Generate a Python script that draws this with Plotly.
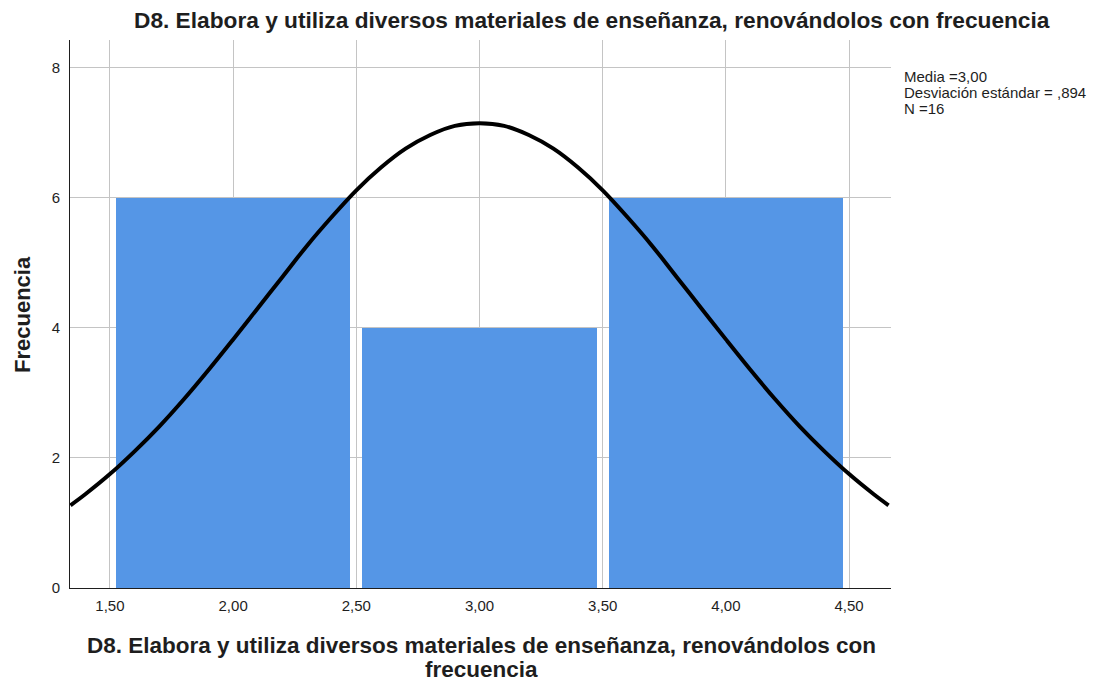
import plotly.graph_objects as go

# histogram bins (centres) and counts
bin_centres = [2.0, 3.0, 4.0]
counts = [6, 4, 6]

# normal curve (mean 3,00, sd ,894, N 16)
curve_x = [1.34, 1.4, 1.5, 1.6, 1.7, 1.8, 1.9, 2.0, 2.1, 2.2, 2.3, 2.4, 2.5, 2.6, 2.7, 2.8, 2.9,
           3.0, 3.1, 3.2, 3.3, 3.4, 3.5, 3.6, 3.7, 3.8, 3.9, 4.0, 4.1, 4.2, 4.3, 4.4, 4.5, 4.6, 4.66]
curve_y = [1.27, 1.44, 1.75, 2.10, 2.48, 2.90, 3.35, 3.82, 4.30, 4.78, 5.26, 5.70, 6.11, 6.46, 6.75, 6.96, 7.10,
           7.14, 7.10, 6.96, 6.75, 6.46, 6.11, 5.70, 5.26, 4.78, 4.30, 3.82, 3.35, 2.90, 2.48, 2.10, 1.75, 1.44, 1.27]

x_ticks = [1.5, 2.0, 2.5, 3.0, 3.5, 4.0, 4.5]
x_tick_labels = ["1,50", "2,00", "2,50", "3,00", "3,50", "4,00", "4,50"]
y_ticks = [0, 2, 4, 6, 8]

TITLE = "D8. Elabora y utiliza diversos materiales de enseñanza, renovándolos con frecuencia"
X_TITLE = ["D8. Elabora y utiliza diversos materiales de enseñanza, renovándolos con", "frecuencia"]
STATS = ["Media =3,00", "Desviación estándar = ,894", "N =16"]
FONT = "Liberation Sans, Arial, sans-serif"
INK = "#1e1e1e"

fig = go.Figure()
fig.add_trace(go.Bar(x=bin_centres, y=counts, width=0.95,
                     marker=dict(color="#5596e6", line=dict(width=0)),
                     showlegend=False))
fig.add_trace(go.Scatter(x=curve_x, y=curve_y, mode="lines",
                         line=dict(color="black", width=4, shape="spline"),
                         showlegend=False))

axis_common = dict(showgrid=True, gridcolor="#c4c4c4", gridwidth=1, zeroline=False,
                   showline=True, linecolor=INK, linewidth=1, ticks="",
                   tickfont=dict(size=15, color=INK), automargin=False)

fig.update_layout(
    width=1094, height=684,
    paper_bgcolor="white", plot_bgcolor="white",
    font=dict(family=FONT, color=INK, size=15),
    margin=dict(l=70, r=203, t=40, b=96),
    xaxis=dict(range=[1.338, 4.67], tickmode="array", tickvals=x_ticks, ticktext=x_tick_labels,
               ticklabelstandoff=4, **axis_common),
    yaxis=dict(range=[0, 8.42], tickmode="array", tickvals=y_ticks,
               ticklabelstandoff=6, **axis_common),
    bargap=0,
)

# chart title
fig.add_annotation(text="<b>" + TITLE + "</b>", xref="paper", yref="paper",
                   x=0.6358, y=1.0365, xanchor="center", yanchor="middle",
                   showarrow=False, font=dict(size=22.7, color=INK))

# x axis title, two lines set tight like the original
for txt, yy in zip(X_TITLE, [-0.1058, -0.1496]):
    fig.add_annotation(text="<b>" + txt + "</b>", xref="paper", yref="paper",
                       x=0.5018, y=yy, xanchor="center", yanchor="middle",
                       showarrow=False, font=dict(size=22.5, color=INK))

# y axis title
fig.add_annotation(text="<b>Frecuencia</b>", xref="paper", yref="paper",
                   x=-0.0585, y=0.5, xanchor="center", yanchor="middle", textangle=-90,
                   showarrow=False, font=dict(size=22, color=INK))

# stats box
for txt, yy in zip(STATS, [0.9343, 0.9033, 0.8741]):
    fig.add_annotation(text=txt, xref="paper", yref="paper",
                       x=1.0134, y=yy, xanchor="left", yanchor="middle",
                       showarrow=False, font=dict(size=15, color=INK))

# the page's default 8px body margin would push the figure off the window
fig.write_html("out.html", config={"displayModeBar": False},
               post_script="document.body.style.margin='0';")
